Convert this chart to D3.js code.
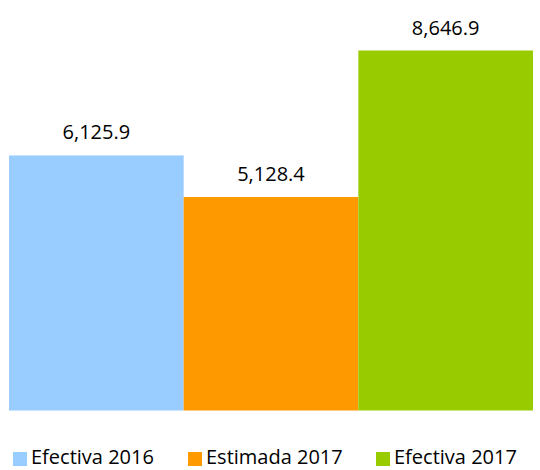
<!DOCTYPE html>
<html>
<head>
<meta charset="utf-8">
<script src="https://cdn.jsdelivr.net/npm/d3@7/dist/d3.min.js"></script>
<style>
  html, body { margin: 0; padding: 0; background: #fff; }
  text { font-family: "Open Sans", "Noto Sans", sans-serif; fill: #000; }
</style>
</head>
<body>
<svg id="chart" width="540" height="470"></svg>
<script>
const categories = ["Efectiva 2016", "Estimada 2017", "Efectiva 2017"];
const values = [6125.9, 5128.4, 8646.9];
const colors = ["#99ccff", "#ff9900", "#99cc00"];

const svg = d3.select("#chart");
const margin = { left: 9, right: 7, top: 50.5, bottom: 59.5 };
const W = 540, H = 470;

const x = d3.scaleBand().domain(categories)
  .range([margin.left, W - margin.right]).paddingInner(0).paddingOuter(0);
const y = d3.scaleLinear().domain([0, d3.max(values)])
  .range([H - margin.bottom, margin.top]);

const fmt = d3.format(",.1f");

svg.selectAll("rect.bar").data(categories).join("rect")
  .attr("class", "bar")
  .attr("x", d => x(d))
  .attr("width", x.bandwidth())
  .attr("y", (d, i) => y(values[i]))
  .attr("height", (d, i) => y(0) - y(values[i]))
  .attr("fill", (d, i) => colors[i]);

svg.selectAll("text.lbl").data(categories).join("text")
  .attr("class", "lbl")
  .attr("x", d => x(d) + x.bandwidth() / 2)
  .attr("y", (d, i) => y(values[i]) - 16)
  .attr("text-anchor", "middle")
  .attr("font-size", 20)
  .text((d, i) => fmt(values[i]));

// legend
const legendX = [13, 188, 376];
const lg = svg.selectAll("g.leg").data(categories).join("g")
  .attr("class", "leg")
  .attr("transform", (d, i) => `translate(${legendX[i]},0)`);
lg.append("rect")
  .attr("x", 0).attr("y", 452)
  .attr("width", 14).attr("height", 14)
  .attr("fill", (d, i) => colors[i]);
lg.append("text")
  .attr("x", 18).attr("y", 464)
  .attr("font-size", 20)
  .text(d => d);
</script>
</body>
</html>
